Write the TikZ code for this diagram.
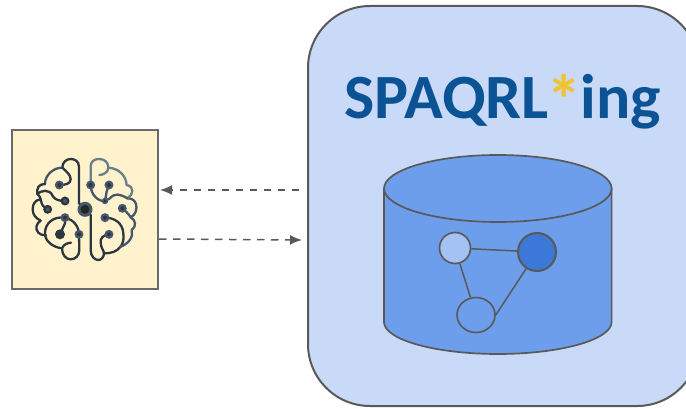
\documentclass[tikz,border=0pt]{standalone}
\usepackage{fontspec}
\setmainfont{Carlito}
\newfontface\titlewide[FakeStretch=1.015]{Carlito Bold}
\usetikzlibrary{arrows.meta,shapes.geometric}
\definecolor{linegrey}{HTML}{595959}
\definecolor{panel}{HTML}{C9DAF8}
\definecolor{cyl}{HTML}{6D9EEB}
\definecolor{lightn}{HTML}{A4C2F4}
\definecolor{darkn}{HTML}{3C78D8}
\definecolor{paper}{HTML}{FFF2CC}
\definecolor{titleblue}{HTML}{0B5394}
\definecolor{star}{HTML}{F1C232}
\definecolor{bd}{HTML}{2B3640}
\definecolor{bm}{HTML}{46576A}
\definecolor{bl}{HTML}{6B7E8C}
\tikzset{
  edgeline/.style={draw=linegrey,line width=1.5pt},
  graphnode/.style={circle,draw=linegrey,line width=1.6pt,inner sep=0pt},
  flow/.style={draw=linegrey,line width=1.5pt,dash pattern=on 7.5pt off 6.5pt,-{Latex[length=12pt,width=10pt]}},
  wire/.style={line width=2.3pt,line cap=round,line join=round},
  dot/.style={circle,fill=#1,inner sep=0pt,minimum size=4pt},
  halo/.style={circle,fill=#1,inner sep=0pt,minimum size=9pt}
}
\begin{document}
\begin{tikzpicture}[x=1pt,y=-1pt]
\useasboundingbox (0,0) rectangle (686,409);
\fill[white] (0,0) rectangle (686,409);
% panel
\begin{scope}
\clip (0,0) rectangle (686,409);
\draw[fill=panel,draw=linegrey,line width=2pt,rounded corners=62pt] (308,6) rectangle (699,406);
\end{scope}
\node[text=titleblue,inner sep=0pt,anchor=base west] (title) at (344,119) {\fontsize{63}{63}\titlewide SPAQRL\kern-2pt\textcolor{star}{\fontsize{70}{70}\selectfont\raisebox{-6pt}{*}}\kern-2pt\fontsize{63}{63}\selectfont ing};
% cylinder
\draw[fill=cyl,draw=linegrey,line width=1.7pt] (384,188) -- (384,322) arc[start angle=180,end angle=360,x radius=113.8,y radius=-32] -- (611.6,188);
\draw[fill=cyl,draw=linegrey,line width=1.7pt] (497.8,188.5) ellipse[x radius=113.8,y radius=33.5];
% graph
\node[graphnode,fill=lightn,minimum size=31pt] (g1) at (455,248) {};
\node[graphnode,fill=darkn,minimum size=38pt,line width=2pt] (g2) at (537,252) {};
\node[graphnode,ellipse,fill=cyl,minimum width=38pt,minimum height=35pt] (g3) at (476,315) {};
\draw[edgeline] (g1) -- (g2);
\draw[edgeline] (g1) -- (g3);
\draw[edgeline] (g2) -- (g3.east);
% agent box
\node[draw=linegrey!90,fill=paper,line width=1.8pt,minimum width=146pt,minimum height=159pt,inner sep=0pt] (agent) at (85,209.5) {};
\coordinate (pin) at (299,190);
\coordinate (pout) at (160,190);
\coordinate (qin) at (159,239);
\coordinate (qout) at (302,240);
\draw[flow] (pin) -- (pout);
\draw[flow] (qin) -- (qout);
% brain (coordinates taken on a 3x crop)
\begin{scope}[shift={(0,120)},x=0.3333pt,y=-0.3333pt]
\draw[wire,bd] (255,268) -- (237,250) -- (237,140) .. controls (237,122) and (222,117) .. (212,117) .. controls (198,117) and (187,128) .. (187,143);
\draw[wire,bm] (187,143) .. controls (160,143) and (135,165) .. (135,192);
\draw[wire,bd] (187,143) .. controls (200,155) and (212,165) .. (212,178) .. controls (212,192) and (195,195) .. (178,195);
\draw[wire,bd] (135,192) .. controls (115,192) and (110,205) .. (112,222) .. controls (120,212) and (150,205) .. (158,228) .. controls (165,240) and (180,243) .. (195,243);
\draw[wire,bd] (112,222) .. controls (120,228) and (120,232) .. (122,238) .. controls (105,240) and (98,252) .. (98,268) .. controls (98,285) and (108,295) .. (122,302) .. controls (108,310) and (105,328) .. (115,338) .. controls (120,344) and (128,346) .. (138,346);
\draw[wire,bd] (122,238) .. controls (125,255) and (130,262) .. (143,268);
% lower left loop
\draw[wire,bd] (195,293) .. controls (160,288) and (135,310) .. (135,340) .. controls (135,365) and (160,382) .. (186,385) .. controls (186,405) and (198,418) .. (212,418) .. controls (228,418) and (238,405) .. (238,390) -- (237,343) .. controls (237,320) and (220,298) .. (195,293);
\draw[wire,bd] (195,293) -- (195,310) -- (180,343);
\draw[wire,bd] (186,385) .. controls (190,375) and (200,369) .. (213,368);
% right hemisphere
\draw[wire,bd] (255,268) -- (272,285) -- (272,390) .. controls (272,410) and (285,420) .. (295,420) .. controls (305,420) and (312,410) .. (312,400);
\draw[wire,bd] (312,400) .. controls (335,400) and (350,395) .. (362,380);
\draw[wire,bd] (327,343) .. controls (310,345) and (300,355) .. (302,368) .. controls (303,385) and (312,392) .. (312,400);
\draw[wire,bd] (362,380) .. controls (370,368) and (372,358) .. (370,340) .. controls (368,310) and (345,293) .. (315,293);
\draw[wire,bm] (362,380) .. controls (385,372) and (402,350) .. (395,330) .. controls (410,320) and (408,300) .. (392,292);
\draw[wire,bm] (392,292) .. controls (408,285) and (412,265) .. (408,252) .. controls (404,240) and (395,235) .. (382,235);
\draw[wire,bm] (367,265) .. controls (375,272) and (385,280) .. (392,292);
\draw[wire,bl] (382,235) .. controls (400,225) and (405,200) .. (380,195);
\draw[wire,bm] (382,235) .. controls (360,222) and (345,218) .. (330,235) -- (315,243);
\draw[wire,bm] (315,243) .. controls (295,245) and (272,225) .. (272,195);
\draw[wire,bm] (315,243) -- (320,215) -- (327,195);
\draw[wire,bl] (272,195) -- (272,140) .. controls (272,125) and (282,117) .. (297,117) .. controls (315,117) and (325,128) .. (325,143);
\draw[wire,bl] (325,143) .. controls (325,155) and (312,165) .. (298,165);
\draw[wire,bl] (325,143) .. controls (355,145) and (378,165) .. (380,195);
\node[halo=bm] (n1) at (178,195) {}; \node[dot=bd] at (n1) {};
\node[halo=bd] (n2) at (195,243) {}; \node[dot=bm] at (n2) {};
\node[halo=bd] (n3) at (143,268) {}; \node[dot=bm] at (n3) {};
\node[halo=bm] (n4) at (195,293) {}; \node[dot=bd] at (n4) {};
\node[halo=bd,minimum size=10pt] (n5) at (180,343) {}; \node[dot=bd] at (n5) {};
\node[halo=bm] (n6) at (237,343) {}; \node[dot=bd] at (n6) {};
\node[halo=bm] (n7) at (272,195) {}; \node[dot=bd] at (n7) {};
\node[halo=bm] (n8) at (327,195) {}; \node[dot=bd] at (n8) {};
\node[halo=bm,minimum size=6.5pt] (n9) at (315,243) {}; \node[dot=bd,minimum size=3pt] at (n9) {};
\node[halo=bm] (n10) at (367,265) {}; \node[dot=bd] at (n10) {};
\node[halo=bm] (n11) at (315,293) {}; \node[dot=bd] at (n11) {};
\node[halo=bm] (n12) at (327,343) {}; \node[dot=bd] at (n12) {};
\node[circle,fill=bm,inner sep=0pt,minimum size=15pt] (hub) at (255,268) {};
\node[circle,fill=black!85,inner sep=0pt,minimum size=9pt] at (hub) {};
\end{scope}
\end{tikzpicture}
\end{document}
